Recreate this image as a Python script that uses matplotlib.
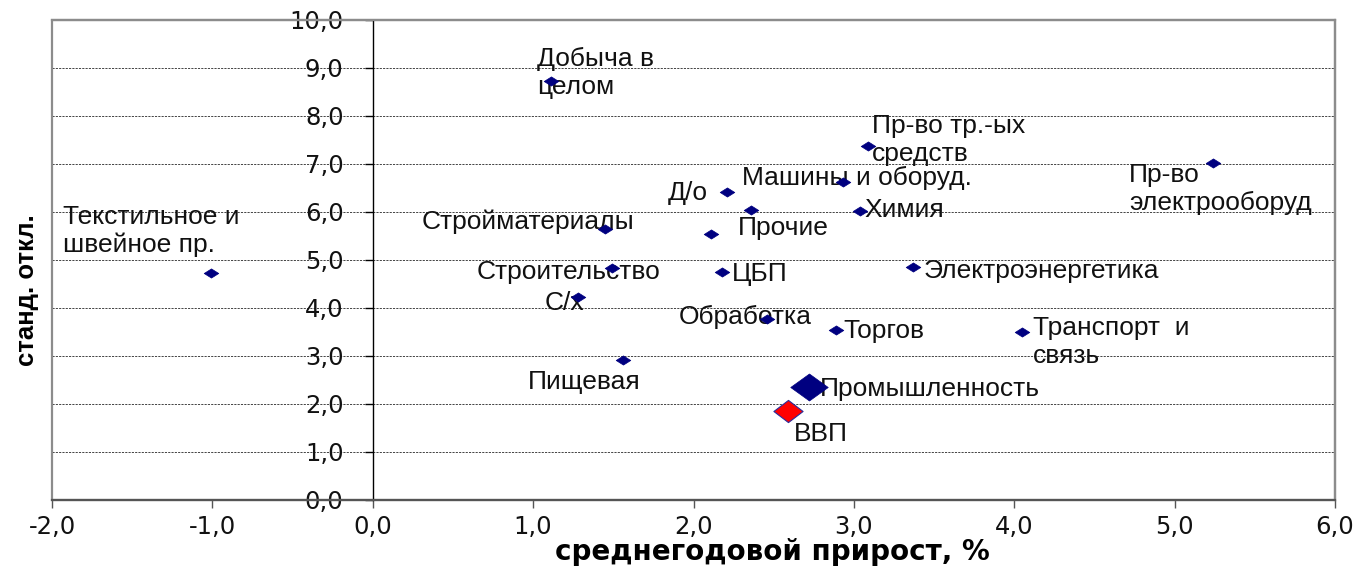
import numpy as np
import matplotlib
matplotlib.use("Agg")
import matplotlib.pyplot as plt
from matplotlib.path import Path
from matplotlib.patches import Rectangle
from matplotlib.ticker import FuncFormatter

# ---------------- data ----------------
sector_labels = ["Текстильное и\nшвейное пр.", "Добыча в\nцелом", "Пр-во тр.-ых\nсредств",
                 "Пр-во\nэлектрооборуд", "Машины и оборуд.", "Д/о", "", "Прочие", "Химия",
                 "Стройматериалы", "Строительство", "ЦБП", "Электроэнергетика", "С/х",
                 "Обработка", "Торгов", "Транспорт  и\nсвязь", "Пищевая"]
sector_x = [-1.01, 1.11, 3.09, 5.24, 2.93, 2.21, 2.36, 2.11, 3.04,
            1.45, 1.49, 2.18, 3.37, 1.28, 2.46, 2.89, 4.05, 1.56]
sector_y = [4.73, 8.73, 7.375, 7.02, 6.625, 6.42, 6.04, 5.54, 6.02,
            5.65, 4.83, 4.75, 4.85, 4.23, 3.77, 3.54, 3.50, 2.92]

industry_label = "Промышленность"
industry_x = [2.72]
industry_y = [2.35]

gdp_label = "ВВП"
gdp_x = [2.59]
gdp_y = [1.85]

x_ticks = [-2, -1, 0, 1, 2, 3, 4, 5, 6]
y_ticks = [0, 1, 2, 3, 4, 5, 6, 7, 8, 9, 10]
x_title = "среднегодовой прирост, %"
y_title = "станд. откл."

# label offsets (pixels from the point to the left/centre of the text)
sector_offsets = [(-148, 42), (-14, 8), (4, 6), (-84, -26), (-101, 4), (-59, -1), (0, 0),
                  (27, 6), (4, 1), (-184, 7), (-135, -4), (10, -2), (10, -4), (-33, -6),
                  (-89, 2), (7, -1), (11, -10), (-95, -22)]
industry_offset = (11, -2)
gdp_offset = (6, -23)

# ---------------- figure ----------------
W, H = 1362, 566
fig = plt.figure(figsize=(W / 100, H / 100), dpi=100)
ax = fig.add_axes([52 / W, 66 / H, 1283 / W, 480 / H])
ax.set_xlim(-2, 6)
ax.set_ylim(0, 10)
ax.set_xticks(x_ticks)
ax.set_yticks(y_ticks)
fmt = FuncFormatter(lambda v, p: f"{v:.1f}".replace(".", ","))
ax.xaxis.set_major_formatter(fmt)
ax.yaxis.set_major_formatter(fmt)

ax.tick_params(axis="both", labelsize=17.5, labelcolor="#111111")
ax.tick_params(axis="y", direction="out", length=6, width=1, pad=15, color="black")
ax.tick_params(axis="x", direction="out", length=6, width=1, pad=5, color="#555555")
for lab in ax.get_xticklabels() + ax.get_yticklabels():
    lab.set_fontfamily("DejaVu Sans")

# spines
ax.spines["left"].set_position(("data", 0))
ax.spines["left"].set_color("black")
ax.spines["left"].set_linewidth(1.0)
for s in ["top", "right"]:
    ax.spines[s].set_color("#8c8c8c")
    ax.spines[s].set_linewidth(1.6)
ax.spines["bottom"].set_color("#555555")
ax.spines["bottom"].set_linewidth(1.6)
ax.add_patch(Rectangle((0, 0), 1, 1, transform=ax.transAxes, fill=False,
                       edgecolor="#8c8c8c", linewidth=1.6, clip_on=False, zorder=1))

ax.yaxis.grid(True, linestyle=(0, (2.2, 1.2)), color="#444444", linewidth=0.7)
ax.set_axisbelow(True)


def diamond(r):
    return Path([(0, -r), (1, 0), (0, r), (-1, 0), (0, -r)],
                [Path.MOVETO, Path.LINETO, Path.LINETO, Path.LINETO, Path.CLOSEPOLY])


navy = "#000080"
ax.plot(sector_x, sector_y, linestyle="none", marker=diamond(0.63), markersize=10.5,
        markerfacecolor=navy, markeredgecolor=navy, markeredgewidth=0.5, zorder=4)
ax.plot(industry_x, industry_y, linestyle="none", marker=diamond(0.72), markersize=27,
        markerfacecolor=navy, markeredgecolor=navy, markeredgewidth=0.5, zorder=4)
ax.plot(gdp_x, gdp_y, linestyle="none", marker=diamond(0.76), markersize=21,
        markerfacecolor="#ff0000", markeredgecolor="#2b2b9a", markeredgewidth=0.8, zorder=5)

lab_kw = dict(textcoords="offset pixels", ha="left", va="center", fontsize=19,
              fontfamily="Liberation Sans", color="#111111", zorder=3)
for lab, x, y, off in zip(sector_labels, sector_x, sector_y, sector_offsets):
    if lab:
        ax.annotate(lab, (x, y), xytext=off, **lab_kw)
ax.annotate(industry_label, (industry_x[0], industry_y[0]), xytext=industry_offset, **lab_kw)
ax.annotate(gdp_label, (gdp_x[0], gdp_y[0]), xytext=gdp_offset, **lab_kw)

fig.text(772 / W, 1 - 552 / H, x_title, ha="center", va="center", fontsize=20,
         fontweight="bold", fontfamily="DejaVu Sans")
fig.text(27 / W, 1 - 290 / H, y_title, ha="center", va="center", rotation=90,
         fontsize=18.5, fontweight="bold", fontfamily="Liberation Sans")

fig.savefig("out.png", dpi=100, facecolor="white")
